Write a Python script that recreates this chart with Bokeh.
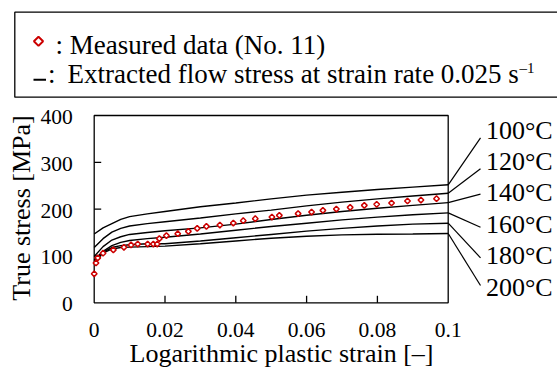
import numpy as np
from bokeh.plotting import figure
from bokeh.models import Range1d
from bokeh.core.properties import value
from bokeh.embed import file_html
from bokeh.resources import INLINE

# ---------------- data ----------------
meas_strain = [0.0, 0.0005, 0.001, 0.0025, 0.0054, 0.0084, 0.0104, 0.0123, 0.0151, 0.0167,
               0.0178, 0.0184, 0.0204, 0.0236, 0.0266, 0.0291, 0.0317, 0.0355, 0.0393, 0.0421,
               0.0455, 0.0502, 0.0523, 0.0576, 0.0614, 0.0646, 0.0684, 0.0723, 0.0763, 0.0798,
               0.0840, 0.0885, 0.0923, 0.0967]
meas_stress = [62, 85, 96, 106, 113, 118.5, 123.5, 125.5, 125.5, 125.5,
               125.5, 137, 143.5, 147.6, 152.5, 158.9, 163.2, 166, 170.3, 175.4,
               179.7, 183.1, 186.7, 190.4, 193.8, 197.4, 200.2, 203.8, 208, 210.3,
               213.1, 217.4, 219.5, 222.4]

model_strain = [0, 0.0025, 0.005, 0.0075, 0.01, 0.015, 0.02, 0.03, 0.04, 0.05, 0.06, 0.07, 0.08, 0.09, 0.1]
flow_100 = [147, 160, 169, 178, 184, 190, 195, 205, 213, 222, 230, 236, 242, 247, 252]
flow_120 = [118, 137, 151, 159, 164, 169, 173, 181, 190, 198, 207, 215, 222, 228, 234]
flow_140 = [99, 120, 134, 141, 146, 150, 154, 160, 168, 178, 187, 195, 202, 208, 214]
flow_160 = [92, 110, 122, 129, 133, 137, 140, 147, 155, 163, 170, 177, 183, 188, 192]
flow_180 = [90, 108, 118, 122, 124, 126, 126, 132, 139, 146, 153, 159, 164, 168, 170]
flow_200 = [88, 106, 115, 118, 119, 120, 121, 126, 132, 138, 142, 145, 146.5, 147, 148]

temp_labels = ["100°C", "120°C", "140°C", "160°C", "180°C", "200°C"]
flows = [flow_100, flow_120, flow_140, flow_160, flow_180, flow_200]

x_ticks = [0, 0.02, 0.04, 0.06, 0.08, 0.1]
x_tick_labels = ["0", "0.02", "0.04", "0.06", "0.08", "0.1"]
y_ticks = [0, 100, 200, 300, 400]
y_tick_labels = ["0", "100", "200", "300", "400"]
x_title = "Logarithmic plastic strain [\u2013]"
y_title = "True stress [MPa]"
legend_measured = ": Measured data (No. 11)"
legend_flow = "Extracted flow stress at strain rate 0.025 s"
legend_flow_sup = "\u20131"

FONT = value("Liberation Serif")
RED = "#cc0000"

# ---------------- layout (pixel geometry of the plot box) ----------------
W, H = 557, 367
X0_PX, X1_PX = 93.7, 447.7     # x = 0 and x = 0.1
Y0_PX, Y1_PX = 302.3, 115.0    # y = 0 and y = 400
X_MIN, X_MAX = x_ticks[0], x_ticks[-1]
Y_MIN, Y_MAX = y_ticks[0], y_ticks[-1]
kx = (X1_PX - X0_PX) / (X_MAX - X_MIN)
ky = (Y0_PX - Y1_PX) / (Y_MAX - Y_MIN)


def X(px):
    return X_MIN + (px - X0_PX) / kx


def Y(py):
    return Y_MIN + (Y0_PX - py) / ky


def txt(xs, ys, texts, size, align="left", angle=0.0):
    p.text(x=xs, y=ys, text=texts, text_font=FONT, text_font_size=size, text_align=align,
           text_baseline="middle", angle=angle, text_color="black")


p = figure(width=W, height=H, x_range=Range1d(X(0), X(W)), y_range=Range1d(Y(H), Y(0)),
           output_backend="svg", toolbar_location=None,
           x_axis_location=None, y_axis_location=None, min_border=0)
p.grid.visible = False
p.outline_line_color = None

# plot box
p.quad(left=X_MIN, right=X_MAX, bottom=Y_MIN, top=Y_MAX, fill_color=None,
       line_color="black", line_width=1.3)

# inner ticks
TICK = 7
p.segment(x0=x_ticks[1:-1], y0=[Y_MIN] * (len(x_ticks) - 2), x1=x_ticks[1:-1],
          y1=[Y_MIN + TICK / ky] * (len(x_ticks) - 2), line_color="black", line_width=1.3)
p.segment(x0=[X_MIN] * (len(y_ticks) - 2), y0=y_ticks[1:-1], x1=[X_MIN + TICK / kx] * (len(y_ticks) - 2),
          y1=y_ticks[1:-1], line_color="black", line_width=1.3)

# tick labels
TICK_FS = "21.5px"
txt(x_ticks, [Y(329.4)] * len(x_ticks), x_tick_labels, TICK_FS, "center")
txt([X(72.2)] * len(y_ticks), [t - 1.5 / ky for t in y_ticks], y_tick_labels, TICK_FS, "right")

# axis titles
txt([X(281)], [Y(352.5)], [x_title], "26px", "center")
txt([X(21)], [Y(207.5)], [y_title], "26px", "center", np.pi / 2)

# curves
for f in flows:
    p.line(model_strain, f, line_color="black", line_width=1.4)

# measured data
p.scatter(meas_strain, meas_stress, marker="square", angle=np.pi / 4, size=4,
          line_color=RED, line_width=1.5, fill_color="white")

# temperature labels with leader lines
label_mid_px = [129.5, 160.5, 192, 223.5, 255, 287]
leader_end_px = [137.3, 168.3, 193.7, 226.7, 257.3, 285]
p.segment(x0=[model_strain[-1]] * len(flows), y0=[f[-1] for f in flows],
          x1=[X(480)] * len(flows), y1=[Y(v) for v in leader_end_px],
          line_color="black", line_width=1.2)
txt([X(485.4)] * len(flows), [Y(v) for v in label_mid_px], temp_labels, "26px")

# legend box (top)
p.quad(left=X(14.3), right=X(W + 20), top=Y(11.7), bottom=Y(96.7), fill_color=None,
       line_color="black", line_width=1.3)
p.scatter(x=[X(38)], y=[Y(40.8)], marker="square", angle=np.pi / 4, size=6.5,
          line_color=RED, line_width=2, fill_color="white")
txt([X(55)], [Y(44.5)], [legend_measured], "27px")
p.segment(x0=[X(33)], y0=[Y(79.3)], x1=[X(45.5)], y1=[Y(79.3)], line_color="black", line_width=2)
txt([X(47.5)], [Y(73.2)], [":"], "27px")
txt([X(67)], [Y(73.2)], [legend_flow], "27px")
txt([X(519)], [Y(67.5)], [legend_flow_sup], "15px")

open("out.html", "w").write(file_html(p, INLINE))
